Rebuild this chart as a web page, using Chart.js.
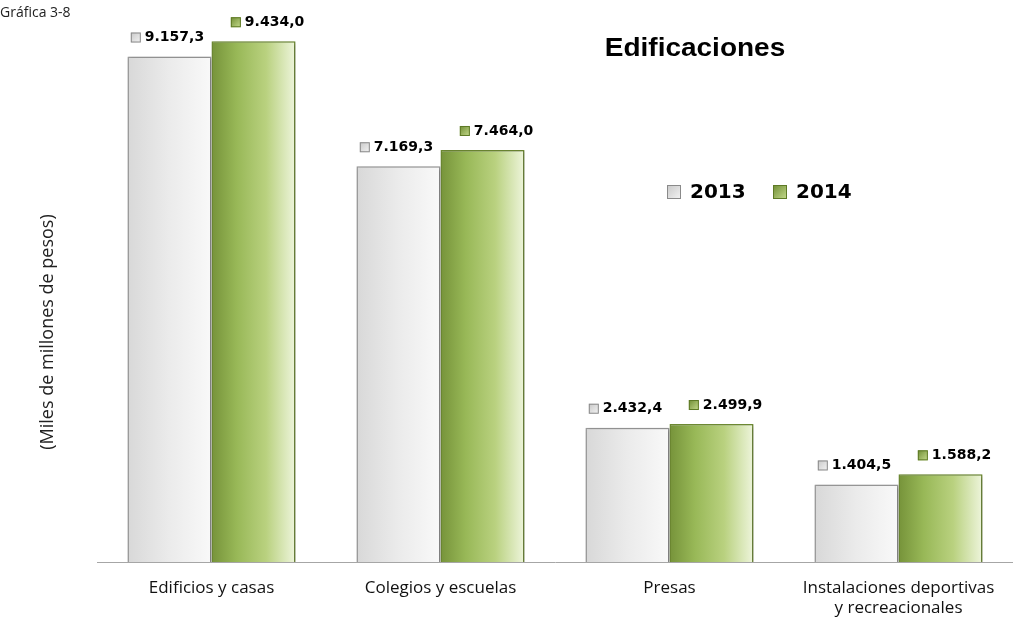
<!DOCTYPE html>
<html>
<head>
<meta charset="utf-8">
<script src="https://cdn.jsdelivr.net/npm/chart.js@4.4.1/dist/chart.umd.min.js"></script>
<style>
  html, body { margin: 0; padding: 0; background: #fff; }
  #wrap { width: 1013px; height: 617px; position: relative; }
</style>
</head>
<body>
<div id="wrap"><canvas id="grafica"></canvas></div>
<script>
// datos (miles de millones de pesos)
const categorias = ['Edificios y casas', 'Colegios y escuelas', 'Presas', ['Instalaciones deportivas', 'y recreacionales']];
const valores2013 = [9157.3, 7169.3, 2432.4, 1404.5];
const valores2014 = [9434.0, 7464.0, 2499.9, 1588.2];
const etiquetas2013 = ['9.157,3', '7.169,3', '2.432,4', '1.404,5'];
const etiquetas2014 = ['9.434,0', '7.464,0', '2.499,9', '1.588,2'];
const anios = ['2013', '2014'];

const CAT_PCT = 0.734;

// degradado horizontal por barra
function gradBarra(ctx, paradas) {
    const chart = ctx.chart;
    const sx = chart.scales.x;
    if (!chart.chartArea || !sx) return paradas[0][1];
    const centro = sx.getPixelForValue(ctx.dataIndex);
    const ancho = sx.width / categorias.length * CAT_PCT / 2;
    const x0 = ctx.datasetIndex === 0 ? centro - ancho : centro;
    const g = chart.ctx.createLinearGradient(x0, 0, x0 + ancho, 0);
    paradas.forEach(p => g.addColorStop(p[0], p[1]));
    return g;
}
const gris = [[0, '#d8d8d8'], [0.5, '#ebebeb'], [1, '#f9f9f9']];
const verde = [[0, '#76933a'], [0.3, '#98b857'], [0.65, '#b9d17f'], [1, '#eef5dc']];

const etiquetasPlugin = {
    id: 'etiquetas',
    beforeDatasetsDraw(chart) {
        const c = chart.ctx;
        c.save();
        c.shadowColor = 'rgba(0,0,0,0.35)';
        c.shadowBlur = 3;
        c.shadowOffsetX = 1;
        c.shadowOffsetY = 1;
    },
    afterDatasetsDraw(chart) {
        const c = chart.ctx;
        c.restore();
        c.save();
        c.font = 'bold 14px "DejaVu Sans"';
        c.textBaseline = 'middle';
        [etiquetas2013, etiquetas2014].forEach((txts, di) => {
            const meta = chart.getDatasetMeta(di);
            meta.data.forEach((bar, i) => {
                const t = txts[i];
                const w = c.measureText(t).width + 14;
                const cx = bar.x + (di === 0 ? -2 : 14);
                const y = bar.y - 19;
                const x0 = cx - w / 2;
                cajita(c, x0, y - 5, 10, di);
                c.fillStyle = '#000';
                c.textAlign = 'left';
                c.fillText(t, x0 + 14, y);
            });
        });
        c.restore();
    },
    afterDraw(chart) {
        const c = chart.ctx;
        c.save();
        // Gráfica 3-8
        c.fillStyle = '#222';
        c.font = '14px "Open Sans"';
        c.textBaseline = 'middle';
        c.textAlign = 'left';
        c.fillText('Gráfica 3-8', 0, 13);
        // título (algo ensanchado como en el original)
        c.save();
        c.fillStyle = '#000';
        c.font = 'bold 25px "Liberation Sans"';
        c.textAlign = 'center';
        c.translate(695, 49);
        c.scale(1.12, 1);
        c.fillText('Edificaciones', 0, 0);
        c.restore();
        // leyenda
        c.font = 'bold 20px "DejaVu Sans"';
        c.textAlign = 'left';
        cajita(c, 667, 185, 14, 0);
        c.fillStyle = '#000';
        c.fillText(anios[0], 690, 193);
        cajita(c, 773, 185, 14, 1);
        c.fillStyle = '#000';
        c.fillText(anios[1], 796, 193);
        // eje Y
        c.translate(48, 332);
        c.rotate(-Math.PI / 2);
        c.font = '18px "Open Sans"';
        c.fillStyle = '#222';
        c.textAlign = 'center';
        c.fillText('(Miles de millones de pesos)', 0, 0);
        c.restore();
    }
};

function cajita(c, x, y, s, di) {
    const g = c.createLinearGradient(x, y, x + s, y + s);
    if (di === 0) { g.addColorStop(0, '#c8c8c8'); g.addColorStop(1, '#f4f4f4'); }
    else { g.addColorStop(0, '#6f8c33'); g.addColorStop(1, '#c6dc8e'); }
    c.fillStyle = g;
    c.fillRect(x, y, s, s);
    c.strokeStyle = di === 0 ? '#8a8a8a' : '#5e7a26';
    c.lineWidth = 1;
    c.strokeRect(x + 0.5, y + 0.5, s - 1, s - 1);
}

new Chart(document.getElementById('grafica'), {
    type: 'bar',
    data: {
        labels: categorias,
        datasets: [
            {
                label: anios[0],
                data: valores2013,
                backgroundColor: ctx => gradBarra(ctx, gris),
                borderColor: '#9a9a9a',
                borderWidth: 1.5,
                barPercentage: 1,
                categoryPercentage: CAT_PCT
            },
            {
                label: anios[1],
                data: valores2014,
                backgroundColor: ctx => gradBarra(ctx, verde),
                borderColor: '#6e8a33',
                borderWidth: 1.5,
                barPercentage: 1,
                categoryPercentage: CAT_PCT
            }
        ]
    },
    options: {
        responsive: true,
        maintainAspectRatio: false,
        animation: false,
        layout: { padding: { left: 97, right: 0, top: 10, bottom: 0 } },
        plugins: { legend: { display: false }, tooltip: { enabled: false } },
        scales: {
            y: { display: false, min: 0, max: 10000 },
            x: {
                grid: { display: false },
                border: { color: '#a6a6a6', width: 1 },
                ticks: { color: '#111', font: { family: 'Open Sans', size: 17, lineHeight: 1.2 }, padding: 8, maxRotation: 0 },
                afterFit: s => { s.height = 55; }
            }
        }
    },
    plugins: [etiquetasPlugin]
});
</script>
</body>
</html>
